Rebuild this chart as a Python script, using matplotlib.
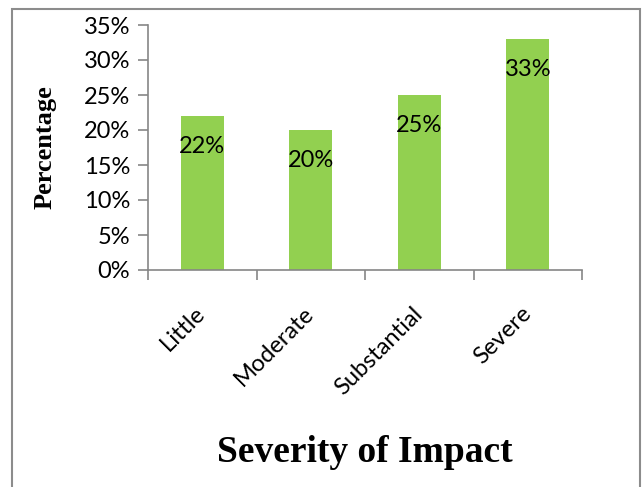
import matplotlib
matplotlib.use("Agg")
import matplotlib.pyplot as plt
from matplotlib.patches import Rectangle
from matplotlib.ticker import FuncFormatter

categories = ["Little", "Moderate", "Substantial", "Severe"]
values = [22, 20, 25, 33]
yticks = [0, 5, 10, 15, 20, 25, 30, 35]

W, H = 643, 487
fig = plt.figure(figsize=(W / 100, H / 100), dpi=100)
ax = fig.add_axes([148 / W, 1 - 270 / H, (582 - 148) / W, (270 - 25) / H])

axis_gray = "#868686"
x = list(range(len(categories)))
ax.bar(x, values, width=0.4, color="#92D050", zorder=2)
ax.set_xlim(-0.5, len(categories) - 0.5)
ax.set_ylim(0, 35)
ax.set_yticks(yticks)
ax.yaxis.set_major_formatter(FuncFormatter(lambda v, p: f"{int(v)}%"))

for s in ["top", "right"]:
    ax.spines[s].set_visible(False)
for s in ["left", "bottom"]:
    ax.spines[s].set_color(axis_gray)
    ax.spines[s].set_linewidth(1.2)

tick_font = "Lato"
fs = 17
ax.tick_params(axis="y", direction="out", length=7, color=axis_gray, width=1.2,
               labelsize=fs, pad=6)
for lbl in ax.get_yticklabels():
    lbl.set_fontfamily(tick_font)

# x ticks at category boundaries
ax.set_xticks([i - 0.5 for i in range(len(categories) + 1)])
ax.set_xticklabels([])
ax.tick_params(axis="x", direction="out", length=7, color=axis_gray, width=1.2)
ax.set_xticks(x, minor=True)
ax.set_xticklabels(categories, minor=True, rotation=45, ha="right",
                   rotation_mode="anchor", fontsize=fs, fontfamily=tick_font)
ax.tick_params(axis="x", which="minor", length=0, pad=29)
for lbl in ax.get_xticklabels(minor=True):
    lbl.set_verticalalignment("center")

for xi, v in zip(x, values):
    ax.annotate(f"{v}%", (xi, v), xytext=(0, -22), textcoords="offset points",
                ha="center", va="center", fontsize=fs, fontfamily=tick_font,
                color="black", zorder=3)

fig.text(45 / W, 1 - 147 / H, "Percentage", rotation=90,
         ha="center", va="center", fontsize=19, fontweight="bold",
         fontfamily="Liberation Serif")
fig.text(365 / W, 1 - 452 / H, "Severity of Impact", ha="center", va="center",
         fontsize=27, fontweight="bold", fontfamily="Liberation Serif")

# outer frame
fig.patches.append(Rectangle((12 / W, -0.1), (640 - 12) / W, 1.1 - 9 / H,
                             transform=fig.transFigure, fill=False,
                             edgecolor="#8c8c8c", linewidth=1.5))

fig.savefig("out.png", dpi=100)
